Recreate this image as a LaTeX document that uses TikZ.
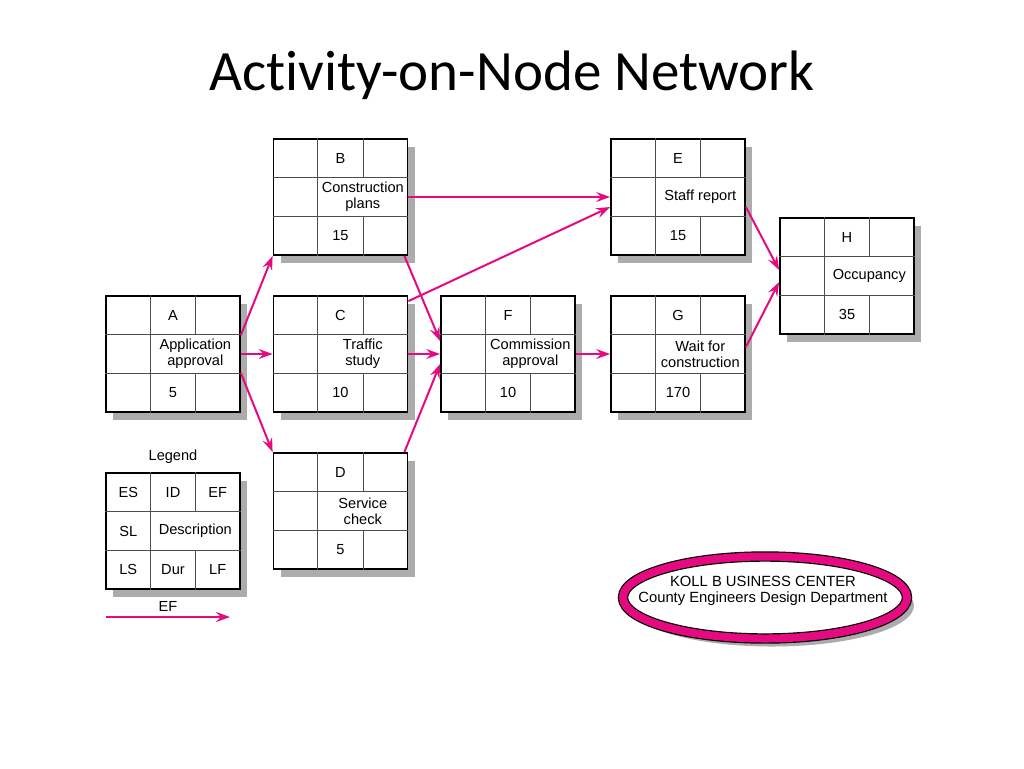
\documentclass[tikz,border=0pt]{standalone}
\usepackage{fontspec}
\setmainfont{Liberation Sans}
\newfontfamily\titlefont[Ligatures=NoCommon]{Carlito}
\usetikzlibrary{arrows.meta,shapes.geometric,shadows,calc,positioning}
\definecolor{arcPink}{RGB}{230,10,128}
\definecolor{shadowGray}{RGB}{172,172,172}
\tikzstyle{actBox}=[draw, line width=0.9pt, fill=white, inner sep=0pt, minimum width=67pt, minimum height=58pt,
    drop shadow={shadow xshift=3.5pt, shadow yshift=-4pt, fill=shadowGray, opacity=1}]
\tikzstyle{cellLine}=[draw=black!70, line width=0.5pt]
\tikzstyle{cellText}=[font=\fontsize{7.3}{8}\selectfont, align=center, inner sep=0pt]
\tikzstyle{precedence}=[draw=arcPink, line width=1pt, -{Stealth[length=7pt,width=5pt,inset=2.5pt]}]
\tikzstyle{businessSeal}=[ellipse, draw=black, line width=0.6pt, double=arcPink, double distance=4pt, fill=white,
    minimum width=142pt, minimum height=41pt,
    drop shadow={shadow xshift=3.5pt, shadow yshift=-4pt, fill=shadowGray, opacity=1}]

% grid and texts of one activity box
\newcommand{\aonCells}[9]{%
  \draw[cellLine] ($(#1.north west)!1/3!(#1.north east)$) -- ($(#1.south west)!1/3!(#1.south east)$);
  \draw[cellLine] ($(#1.north west)!2/3!(#1.north east)$) -- ++(0,38.7);
  \draw[cellLine] ($(#1.south west)!2/3!(#1.south east)$) -- ++(0,-38.7);
  \draw[cellLine] ($(#1.north west)!1/3!(#1.south west)$) -- ($(#1.north east)!1/3!(#1.south east)$);
  \draw[cellLine] ($(#1.north west)!2/3!(#1.south west)$) -- ($(#1.north east)!2/3!(#1.south east)$);
  \node[cellText] (#1-es) at ($(#1)+(-44.7,-38.7)$) {#2};
  \node[cellText] (#1-id) at ($(#1)+(0,-38.7)$) {#3};
  \node[cellText] (#1-ef) at ($(#1)+(44.7,-38.7)$) {#4};
  \node[cellText] (#1-sl) at ($(#1)+(-44.7,0)$) {#5};
  \node[cellText] (#1-desc) at ($(#1)+(22.3,0)$) {#6};
  \node[cellText] (#1-ls) at ($(#1)+(-44.7,38.7)$) {#7};
  \node[cellText] (#1-dur) at ($(#1)+(0,38.7)$) {#8};
  \node[cellText] (#1-lf) at ($(#1)+(44.7,38.7)$) {#9};
}

\begin{document}
\begin{tikzpicture}[x=0.5pt, y=-0.5pt]
    \useasboundingbox (0,0) rectangle (1024,768);
    \node[font=\titlefont\fontsize{28.5}{32}\selectfont] (title) at (512,75) {Activity-on-Node Network};

    % activity boxes
    \node[actBox] (A) at (173,354) {};
    \aonCells{A}{}{A}{}{}{Application\\approval}{}{5}{}
    \node[actBox] (B) at (340.5,197) {};
    \aonCells{B}{}{B}{}{}{Construction\\plans}{}{15}{}
    \node[actBox] (C) at (340.5,354) {};
    \aonCells{C}{}{C}{}{}{Traffic\\study}{}{10}{}
    \node[actBox] (D) at (340.5,511) {};
    \aonCells{D}{}{D}{}{}{Service\\check}{}{5}{}
    \node[actBox] (F) at (508,354) {};
    \aonCells{F}{}{F}{}{}{Commission\\approval}{}{10}{}
    \node[actBox] (E) at (678,197) {};
    \aonCells{E}{}{E}{}{}{Staff report}{}{15}{}
    \node[actBox] (G) at (678,354) {};
    \aonCells{G}{}{G}{}{}{Wait for\\construction}{}{170}{}
    \node[actBox] (H) at (847,276) {};
    \aonCells{H}{}{H}{}{}{Occupancy}{}{35}{}

    % legend
    \node[cellText] (legendTitle) at (173,457) {Legend};
    \node[actBox] (L) at (173,531) {};
    \aonCells{L}{ES}{ID}{EF}{SL}{Description}{LS}{Dur}{LF}
    \coordinate (efStart) at (106,617);
    \coordinate (efEnd) at (230,617);
    \draw[precedence] (efStart) -- node[cellText, above=2.5pt] (efLabel) {EF} (efEnd);

    % Arcs
    \draw[precedence] ($(A.east)+(0,-19)$) -- (B.south west);
    \draw[precedence] (A.east) -- (C.west);
    \draw[precedence] ($(A.east)+(0,19)$) -- (D.north west);
    \draw[precedence] (B.east) -- (E.west);
    \draw[precedence] ($(C.north east)+(0,6)$) -- ($(E.west)+(0,10)$);
    \draw[precedence] ($(B.south east)+(-4,0)$) -- ($(F.west)+(0,-13)$);
    \draw[precedence] (C.east) -- (F.west);
    \draw[precedence] ($(D.north east)+(-4,0)$) -- ($(F.west)+(0,10)$);
    \draw[precedence] (F.east) -- (G.west);
    \draw[precedence] ($(E.east)+(0,10)$) -- ($(H.west)+(0,-6)$);
    \draw[precedence] ($(G.east)+(0,-7)$) -- ($(H.west)+(0,6)$);

    % seal
    \node[businessSeal] (seal) at (765,597.5) {};
    \node[cellText, font=\fontsize{7.4}{8}\selectfont] (sealText) at (763,590.5) {KOLL B USINESS CENTER\\County Engineers Design Department};
\end{tikzpicture}
\end{document}
